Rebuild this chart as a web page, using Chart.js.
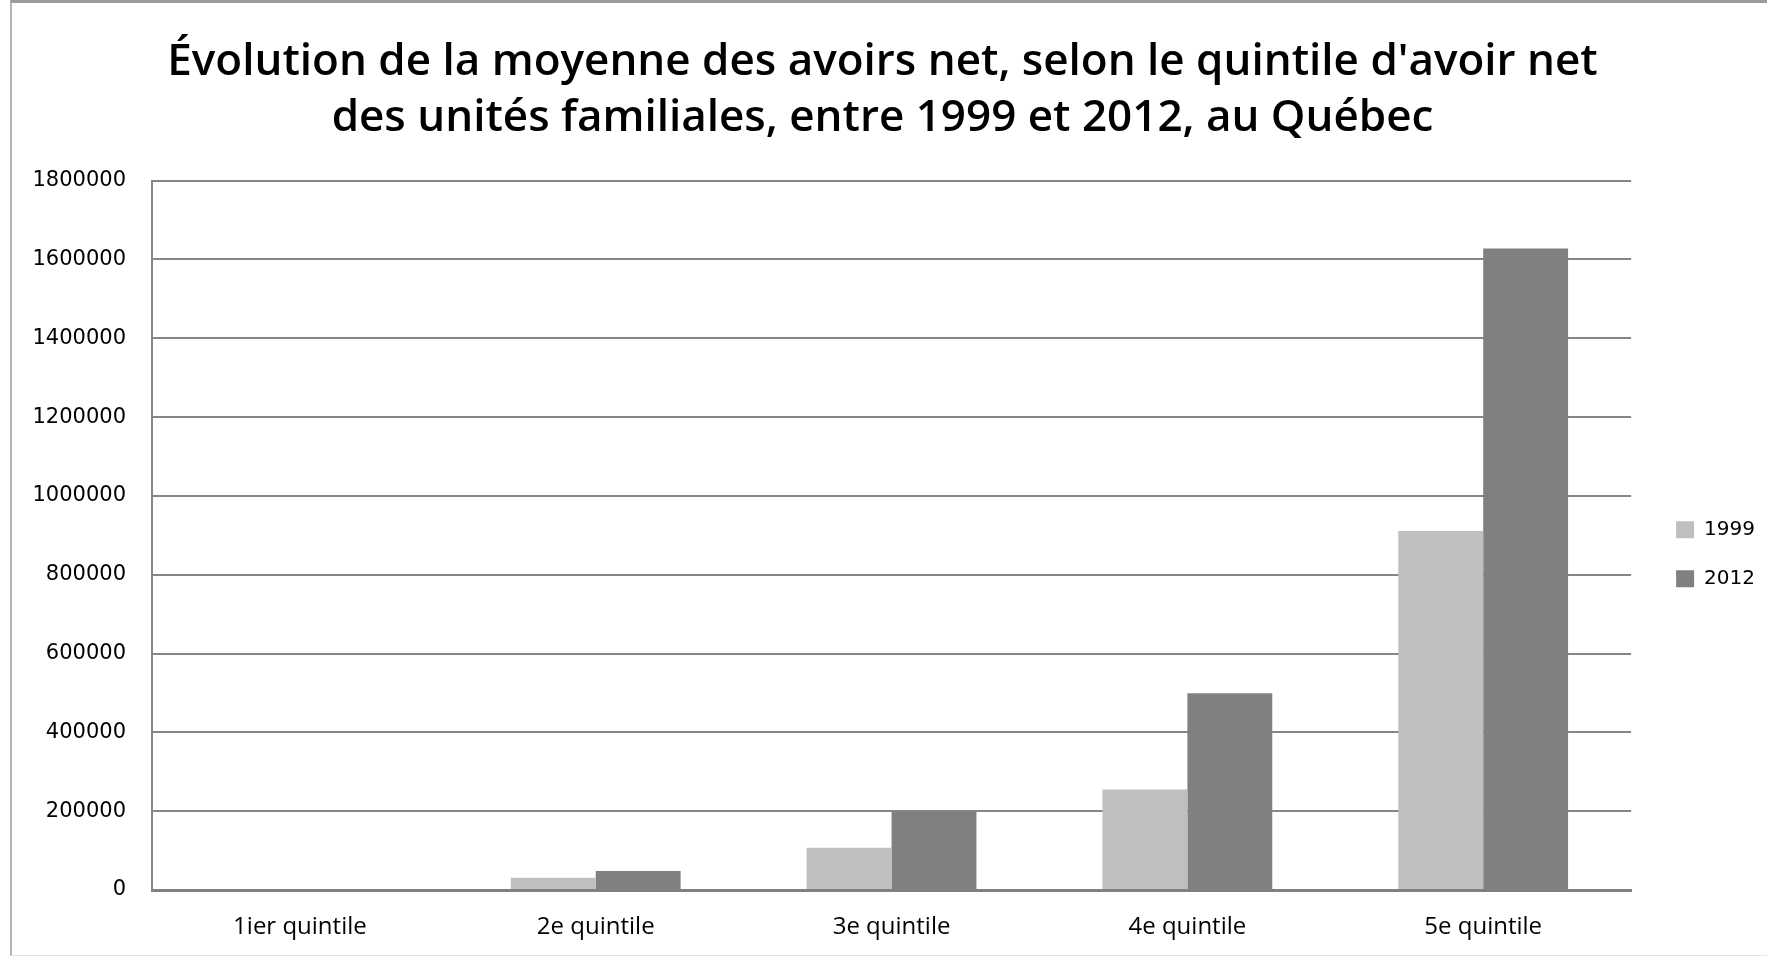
<!DOCTYPE html>
<html>
<head>
<meta charset="utf-8">
<script src="https://cdn.jsdelivr.net/npm/chart.js@4.4.1/dist/chart.umd.min.js"></script>
<style>
  html, body { margin: 0; padding: 0; background: #fff; overflow: hidden; }
  #wrap { position: relative; width: 1767px; height: 957px; }
  #frame {
    position: absolute; left: 10px; top: 0; width: 1800px; height: 956px;
    border-top: 3px solid #9b9b9b; border-left: 2px solid #b4b4b4; border-bottom: 1px solid #e4e4e4;
    box-sizing: border-box; pointer-events: none;
  }
  canvas { display: block; }
</style>
</head>
<body>
<div id="wrap">
  <canvas id="chart" width="1767" height="957"></canvas>
  <div id="frame"></div>
</div>
<script>
// data
const categories = ['1ier quintile', '2e quintile', '3e quintile', '4e quintile', '5e quintile'];
const values1999 = [0, 31000, 107000, 255000, 911000];
const values2012 = [0, 48000, 200000, 499000, 1628000];
const yTicks = [0, 200000, 400000, 600000, 800000, 1000000, 1200000, 1400000, 1600000, 1800000];
const titleLines = [
  "Évolution de la moyenne des avoirs net, selon le quintile d'avoir net",
  'des unités familiales, entre 1999 et 2012, au Québec'
];

const gridGray = '#868686';

new Chart(document.getElementById('chart'), {
  type: 'bar',
  data: {
    labels: categories,
    datasets: [
      { label: '1999', data: values1999, backgroundColor: '#bfbfbf', borderWidth: 0 },
      { label: '2012', data: values2012, backgroundColor: '#808080', borderWidth: 0 }
    ]
  },
  options: {
    responsive: false,
    animation: false,
    devicePixelRatio: 1,
    categoryPercentage: 0.574,
    barPercentage: 1,
    layout: { padding: { top: 0, left: 0, right: 2, bottom: 0 } },
    plugins: {
      title: {
        display: true,
        text: titleLines,
        color: '#000',
        font: { family: 'Open Sans', size: 44, weight: 600, lineHeight: 1.28 },
        padding: { top: 34, bottom: 34 }
      },
      legend: {
        position: 'right',
        fullSize: false,
        title: { display: true, text: '', font: { size: 10, lineHeight: 1.2 }, padding: 13 },
        labels: {
          color: '#000',
          font: { family: 'DejaVu Sans', size: 20 },
          boxWidth: 18,
          boxHeight: 17,
          padding: 29
        }
      },
      tooltip: { enabled: false }
    },
    scales: {
      x: {
        grid: { display: false },
        border: { display: true, color: '#808080', width: 3 },
        ticks: {
          color: '#000',
          font: { family: 'Open Sans', size: 24 },
          padding: 15,
          maxRotation: 0
        },
        afterFit: (s) => { s.height = 67; }
      },
      y: {
        min: 0,
        max: 1800000,
        afterBuildTicks: (s) => { s.ticks = yTicks.map(v => ({ value: v })); },
        grid: { color: gridGray, lineWidth: 2, drawTicks: false },
        border: { display: true, color: gridGray, width: 2 },
        ticks: {
          color: '#000',
          font: { family: 'DejaVu Sans', size: 21 },
          padding: 26,
          callback: (v) => String(v)
        },
        afterFit: (s) => { s.width = 152; }
      },
      // empty axis, only keeps a gap between the plot and the legend
      gap: {
        type: 'linear',
        position: 'right',
        display: true,
        grid: { display: false },
        border: { display: false },
        ticks: { display: false },
        afterFit: (s) => { s.width = 16; }
      }
    }
  }
});
</script>
</body>
</html>
